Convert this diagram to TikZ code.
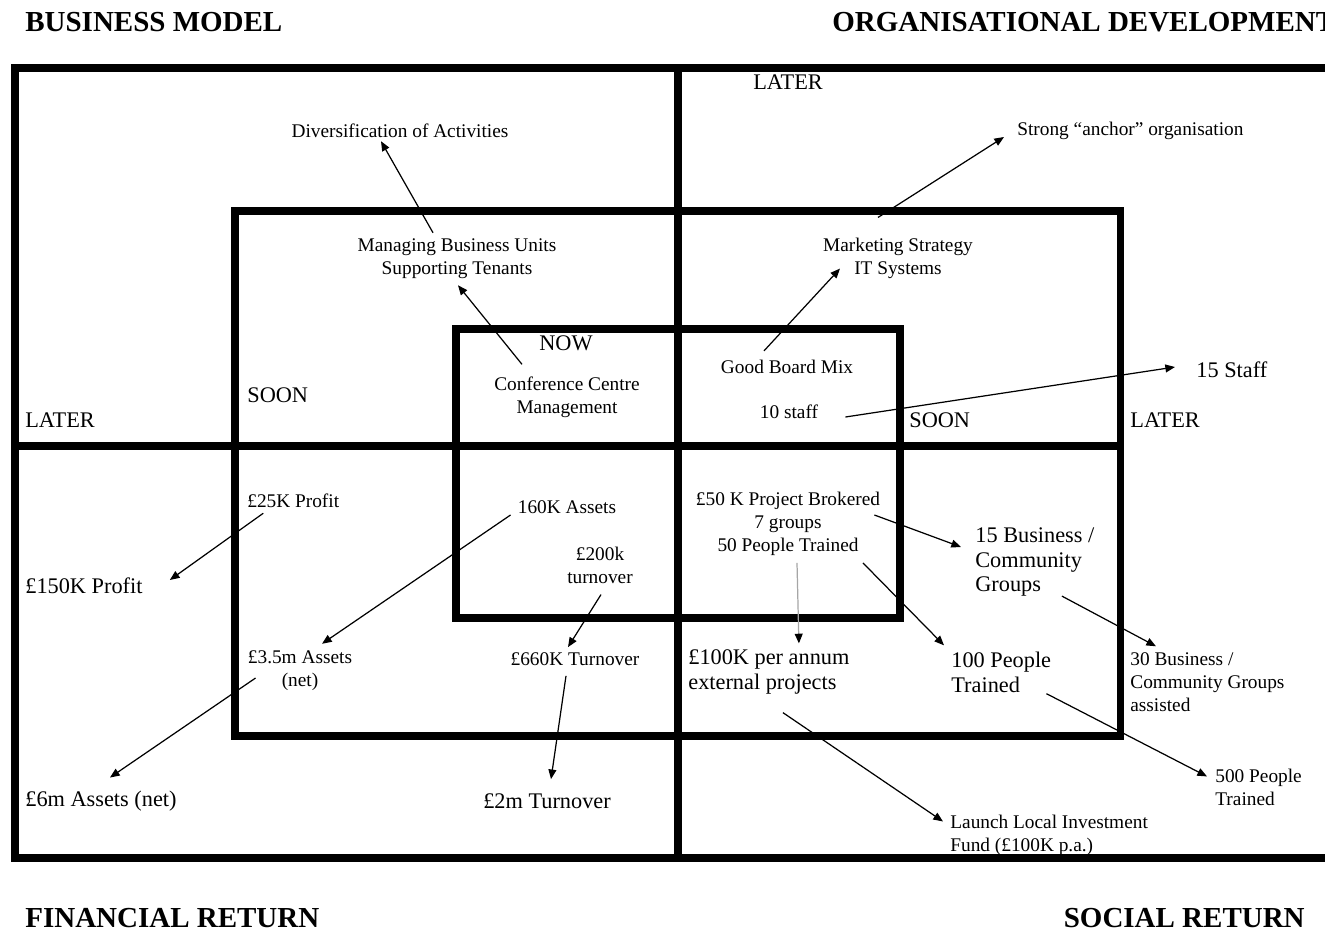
\documentclass[tikz,border=0pt]{standalone}
\usepackage{fontspec}
\setmainfont{Liberation Serif}
\usetikzlibrary{calc,arrows.meta}

\begin{document}
\begin{tikzpicture}[x=0.02cm,y=-0.02cm,
	wall/.style={line width=4pt},
	arr/.style={line width=0.7pt,-{Triangle[length=5.5pt,width=4.5pt]}},
	sm/.style={inner sep=0pt,font=\fontsize{11}{13}\selectfont,align=center},
	bg/.style={inner sep=0pt,font=\fontsize{12.7}{14.2}\selectfont,align=left},
	hd/.style={inner sep=0pt,font=\fontsize{16.5}{18}\selectfont\bfseries}]
	\useasboundingbox (0,0) rectangle (1325,933);

	\draw[wall] (15,68) rectangle (1345,858);
	\draw[wall] (235,211) rectangle (1120,736);
	\draw[wall] (456,329) rectangle (900,618);
	\draw[wall] (678,68) -- (678,858);
	\draw[wall] (15,446) -- (1120,446);

	\node[hd,anchor=west] (bm) at (25,22) {BUSINESS MODEL};
	\node[hd,anchor=west] (od) at (832,22) {ORGANISATIONAL DEVELOPMENT};
	\node[hd,anchor=west] (fr) at (25,918) {FINANCIAL RETURN};
	\node[hd,anchor=east] (sr) at (1305,918) {SOCIAL RETURN};

	\node[bg,anchor=west] (later1) at (753,82) {LATER};
	\node[bg,anchor=west] (later2) at (25,420) {LATER};
	\node[bg,anchor=west] (later3) at (1130,420) {LATER};
	\node[bg,anchor=west] (soon1) at (247,395) {SOON};
	\node[bg,anchor=west] (soon2) at (909,420) {SOON};
	\node[bg] (now) at (566,343) {NOW};

	\node[sm] (divers) at (400,131) {Diversification of Activities};
	\node[sm,anchor=west] (anchor) at (1017,131) {Strong “anchor” organisation};
	\node[sm] (manage) at (457,259) {Managing Business Units\\Supporting Tenants};
	\node[sm] (market) at (898,258) {Marketing Strategy\\IT Systems};
	\node[sm] (conf) at (567,397) {Conference Centre\\Management};
	\node[sm] (board) at (787,367) {Good Board Mix};
	\node[sm] (ten) at (789,412) {10 staff};
	\node[bg,anchor=west] (fifteen) at (1196,370) {15 Staff};

	\node[sm,anchor=west] (p25) at (247,501) {£25K Profit};
	\node[bg,anchor=west] (p150) at (25,586) {£150K Profit};
	\node[sm] (a160) at (567,507) {160K Assets};
	\node[sm] (t200) at (600,565) {£200k\\turnover};
	\node[sm] (a35) at (300,671) {£3.5m Assets\\(net)};
	\node[sm] (t660) at (575,659) {£660K Turnover};
	\node[bg,anchor=west] (a6m) at (25,801) {£6m Assets (net)};
	\node[bg] (t2m) at (547,801) {£2m Turnover};

	\node[sm] (p50) at (788,524) {£50 K Project Brokered\\7 groups\\50 People Trained};
	\node[bg,anchor=west] (biz15) at (975,562) {15 Business /\\Community\\Groups};
	\node[bg,anchor=west] (k100) at (688,672) {£100K per annum\\external projects};
	\node[bg,anchor=west] (ppl100) at (951,672) {100 People\\Trained};
	\node[sm,align=left,anchor=west] (biz30) at (1130,682) {30 Business /\\Community Groups\\assisted};
	\node[sm,align=left,anchor=west] (fund) at (950,835) {Launch Local Investment\\Fund (£100K p.a.)};
	\node[sm,align=left,anchor=west] (ppl500) at (1215,787) {500 People\\Trained};

	\draw[arr] ($(manage.north)+(-24,-6)$) -- ($(divers.south)+(-19,3)$);
	\draw[arr] ($(conf.north)+(-45,-12)$) -- ($(manage.south)+(1,6)$);
	\draw[arr] ($(market.north)+(-20,-20)$) -- ($(anchor.west)+(-13,6)$);
	\draw[arr] ($(board.north)+(-23,-9)$) -- ($(market.south)+(-58,-10)$);
	\draw[arr] ($(ten.east)+(27,5)$) -- ($(fifteen.west)+(-21,-3)$);

	\draw[arr] ($(p25.south)+(-30,5)$) -- ($(p150.east)+(27,-6)$);
	\draw[arr] ($(a160.west)+(-7,8)$) -- ($(a35.north)+(22,-7)$);
	\draw[arr] ($(t200.south)+(1,11)$) -- ($(t660.north)+(-7,-5)$);
	\draw[arr] ($(a35.west)+(8,7)$) -- ($(a6m.north)+(9,-13)$);
	\draw[arr] ($(t660.south)+(-9,10)$) -- ($(t2m.north)+(4,-14)$);

	\draw[arr] ($(p50.east)+(-6,-9)$) -- ($(biz15.west)+(-14,-15)$);
	\draw[arr,gray!70,{Triangle[length=5.5pt,width=4.5pt,color=black]}-] ($(k100.north)+(30,-6)$) -- ($(p50.south)+(9,7)$);
	\draw[arr] ($(p50.south)+(75,7)$) -- ($(ppl100.north west)+(-7,-6)$);
	\draw[arr] ($(biz15.south)+(27,-1)$) -- ($(biz30.north west)+(26,-6)$);
	\draw[arr] ($(ppl100.south east)+(-5,1)$) -- ($(ppl500.north west)+(-8,8)$);
	\draw[arr] ($(k100.south)+(14,18)$) -- ($(fund.north west)+(-7,7)$);
\end{tikzpicture}
\end{document}
